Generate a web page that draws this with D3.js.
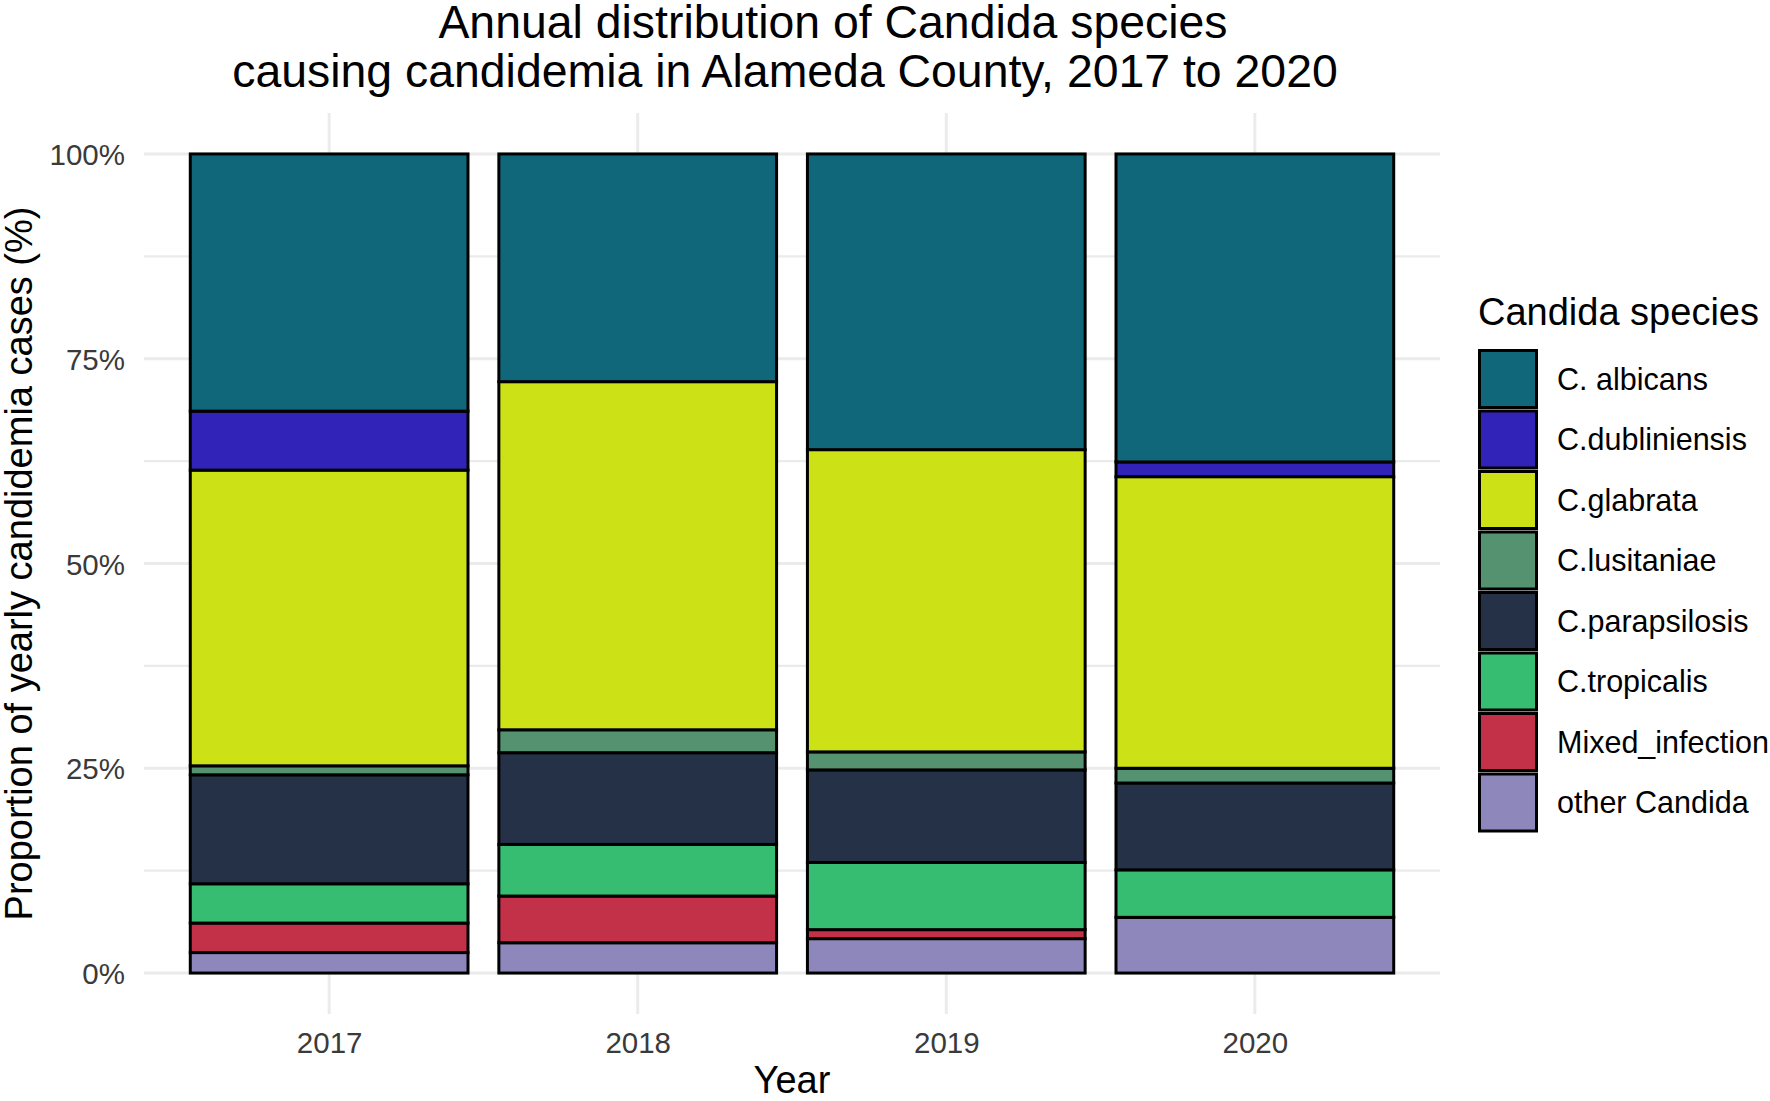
<!DOCTYPE html>
<html>
<head>
<meta charset="utf-8">
<script src="https://cdn.jsdelivr.net/npm/d3@7"></script>
<style>
  html, body { margin: 0; padding: 0; background: #ffffff; }
  svg { display: block; font-family: "Liberation Sans", Arial, Helvetica, sans-serif; }
</style>
</head>
<body>
<svg id="chart" width="1770" height="1101"></svg>
<script>
// ---- Data (percent of yearly candidemia cases) ----
const years = ["2017", "2018", "2019", "2020"];
const species = ["C. albicans", "C.dubliniensis", "C.glabrata", "C.lusitaniae",
                 "C.parapsilosis", "C.tropicalis", "Mixed_infection", "other Candida"];
const albicans     = [31.4, 27.8, 36.1, 37.6];
const dubliniensis = [7.2, 0.0, 0.0, 1.8];
const glabrata     = [36.1, 42.5, 36.9, 35.6];
const lusitaniae   = [1.1, 2.8, 2.2, 1.8];
const parapsilosis = [13.3, 11.2, 11.3, 10.6];
const tropicalis   = [4.8, 6.3, 8.2, 5.8];
const mixed        = [3.6, 5.7, 1.1, 0.0];
const other        = [2.5, 3.7, 4.2, 6.8];
const colors = ["#10677A", "#3223B8", "#CCE216", "#559370",
                "#243147", "#36BD71", "#C33149", "#8D87BB"];
const yTicks = [0, 0.25, 0.5, 0.75, 1];
const yMinor = [0.125, 0.375, 0.625, 0.875];

const seriesValues = [albicans, dubliniensis, glabrata, lusitaniae, parapsilosis, tropicalis, mixed, other];
const rows = years.map((yr, i) => {
  const r = { year: yr };
  species.forEach((s, k) => { r[s] = seriesValues[k][i]; });
  return r;
});

// ---- Layout ----
const svg = d3.select("#chart");
const panel = { left: 144, right: 1440, top: 113, bottom: 1014 };

const x = d3.scalePoint().domain(years).range([panel.left, panel.right]).padding(0.6);
const barW = x.step() * 0.9;
const y = d3.scaleLinear().domain([-0.05, 1.05]).range([panel.bottom, panel.top]);
const color = d3.scaleOrdinal().domain(species).range(colors);

// gridlines
const grid = svg.append("g");
grid.selectAll("line.minor").data(yMinor).join("line")
  .attr("x1", panel.left).attr("x2", panel.right)
  .attr("y1", d => y(d)).attr("y2", d => y(d))
  .attr("stroke", "#EBEBEB").attr("stroke-width", 2.2);
grid.selectAll("line.major").data(yTicks).join("line")
  .attr("x1", panel.left).attr("x2", panel.right)
  .attr("y1", d => y(d)).attr("y2", d => y(d))
  .attr("stroke", "#EBEBEB").attr("stroke-width", 3);
grid.selectAll("line.vert").data(years).join("line")
  .attr("x1", d => x(d)).attr("x2", d => x(d))
  .attr("y1", panel.top).attr("y2", panel.bottom)
  .attr("stroke", "#EBEBEB").attr("stroke-width", 3);

// stacked bars (albicans on top, other Candida at bottom)
const stackKeys = species.slice().reverse();
const stacked = d3.stack().keys(stackKeys).offset(d3.stackOffsetExpand)(rows);

const bars = svg.append("g");
stacked.forEach(layer => {
  bars.append("g")
    .attr("fill", color(layer.key))
    .selectAll("rect")
    .data(layer.filter(d => d[1] - d[0] > 0))
    .join("rect")
    .attr("x", d => x(d.data.year) - barW / 2)
    .attr("width", barW)
    .attr("y", d => y(d[1]))
    .attr("height", d => y(d[0]) - y(d[1]))
    .attr("stroke", "#000")
    .attr("stroke-width", 3);
});

// axes
const yAxis = svg.append("g")
  .attr("transform", `translate(${panel.left},0)`)
  .call(d3.axisLeft(y).tickValues(yTicks).tickFormat(d => Math.round(d * 100) + "%").tickSize(0).tickPadding(19));
yAxis.select(".domain").remove();
yAxis.selectAll("text")
  .attr("font-size", 29.5).attr("fill", "#3a3a3a")
  .attr("font-family", "Liberation Sans, Arial, sans-serif")
  .attr("dy", "0.36em");

const xAxis = svg.append("g")
  .attr("transform", `translate(0,${panel.bottom})`)
  .call(d3.axisBottom(x).tickSize(0).tickPadding(0));
xAxis.select(".domain").remove();
xAxis.selectAll("text")
  .attr("font-size", 29.5).attr("fill", "#3a3a3a")
  .attr("font-family", "Liberation Sans, Arial, sans-serif")
  .attr("y", 39).attr("dy", 0);

// axis titles
svg.append("text")
  .attr("x", (panel.left + panel.right) / 2).attr("y", 1093)
  .attr("text-anchor", "middle").attr("font-size", 38).attr("fill", "#000")
  .text("Year");
svg.append("text")
  .attr("transform", `translate(32,${(panel.top + panel.bottom) / 2}) rotate(-90)`)
  .attr("text-anchor", "middle").attr("font-size", 38).attr("fill", "#000")
  .text("Proportion of yearly candidemia cases (%)");

// title
svg.append("text")
  .attr("x", 833).attr("y", 38)
  .attr("text-anchor", "middle").attr("font-size", 46.4).attr("fill", "#000")
  .text("Annual distribution of Candida species");
svg.append("text")
  .attr("x", 785).attr("y", 87)
  .attr("text-anchor", "middle").attr("font-size", 46.4).attr("fill", "#000")
  .text("causing candidemia in Alameda County, 2017 to 2020");

// legend
const legend = svg.append("g").attr("transform", "translate(1478,0)");
legend.append("text")
  .attr("x", 0).attr("y", 325)
  .attr("font-size", 38).attr("fill", "#000")
  .text("Candida species");
const keyTop = 349, keyPitch = 60.5, keyW = 57, keyH = 57;
const items = legend.selectAll("g.item").data(species).join("g")
  .attr("transform", (d, i) => `translate(0,${keyTop + i * keyPitch})`);
items.append("rect")
  .attr("x", 1.5).attr("y", 1.5)
  .attr("width", keyW).attr("height", keyH)
  .attr("fill", d => color(d))
  .attr("stroke", "#000").attr("stroke-width", 3);
items.append("text")
  .attr("x", 79).attr("y", keyPitch / 2 + 10.5)
  .attr("font-size", 30.5).attr("fill", "#000")
  .text(d => d);
</script>
</body>
</html>
